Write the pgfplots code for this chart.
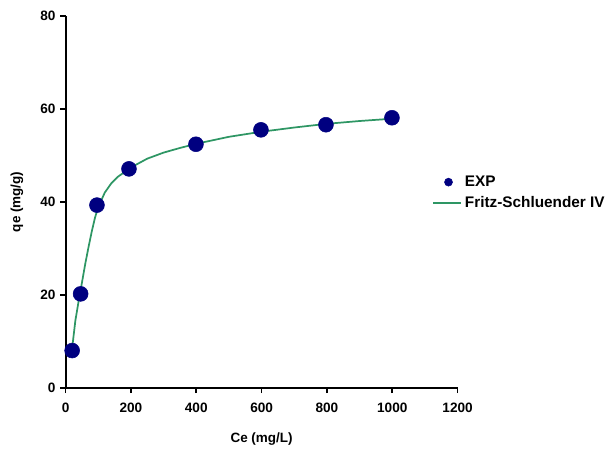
\documentclass[border=0pt]{standalone}
\usepackage{pgfplots}
\pgfplotsset{compat=1.18}
\usepackage{fontspec}
\setmainfont{Liberation Sans}
\definecolor{expblue}{RGB}{0,0,128}
\definecolor{fitgreen}{RGB}{46,150,100}
\begin{document}
\fontsize{10}{12}\selectfont\bfseries
\begin{tikzpicture}
\useasboundingbox (-49.2pt,-50.5pt) rectangle (412.8pt,290.8pt);
\begin{axis}[
    at={(0,0)}, anchor=south west,
    scale only axis,
    width=294pt,
    height=278.8pt,
    xmin=0, xmax=1200,
    ymin=0, ymax=80,
    xtick={0,200,...,1200},
    ytick={0,20,...,80},
    axis x line*=bottom,
    axis y line*=left,
    axis line style={line width=1.5pt,-},
    tick style={line width=1.2pt,black},
    tick align=outside,
    major tick length=4pt,
    /pgf/number format/assume math mode=true,
    /pgf/number format/1000 sep={},
    ticklabel style={font=\fontsize{10.2}{12}\selectfont\bfseries},
    xticklabel style={yshift=-4pt},
    xlabel={Ce (mg/L)},
    ylabel={qe (mg/g)},
    xlabel style={font=\fontsize{10.1}{12}\selectfont\bfseries, yshift=-8pt},
    ylabel style={font=\fontsize{10.1}{12}\selectfont\bfseries, yshift=6pt},
    legend style={at={(0.925,0.585)}, anchor=north west, draw=none, fill=none,
        font=\fontsize{11.5}{13}\selectfont\bfseries, row sep=2pt,
        /tikz/every even column/.append style={column sep=0pt}},
    legend cell align=left,
    clip=false,
]
\addplot [only marks, mark=*, mark size=5.6pt, color=expblue,
    legend image code/.code={\fill[expblue] (0.4cm,0cm) circle (3pt);}]
coordinates {
(20,8.0)
(46,20.2)
(96,39.3)
(194,47.1)
(399,52.4)
(598,55.5)
(797,56.6)
(999,58.1)
};
\addlegendentry{EXP}
\addplot [color=fitgreen, line width=1.3pt, mark=none,
    legend image code/.code={\draw[fitgreen, line width=1.3pt] (0cm,0cm) -- (0.74cm,0cm);}]
coordinates {
(20,8.5)
(30,14.5)
(40,18.7)
(50,22.6)
(60,26.6)
(70,30.2)
(80,33.6)
(90,36.6)
(100,38.9)
(120,42.0)
(140,44.0)
(160,45.4)
(200,47.4)
(250,49.3)
(300,50.6)
(350,51.6)
(400,52.5)
(500,54.0)
(600,55.1)
(700,56.0)
(800,56.8)
(900,57.4)
(1000,57.9)
};
\addlegendentry{Fritz-Schluender IV}
\end{axis}
\end{tikzpicture}
\end{document}
